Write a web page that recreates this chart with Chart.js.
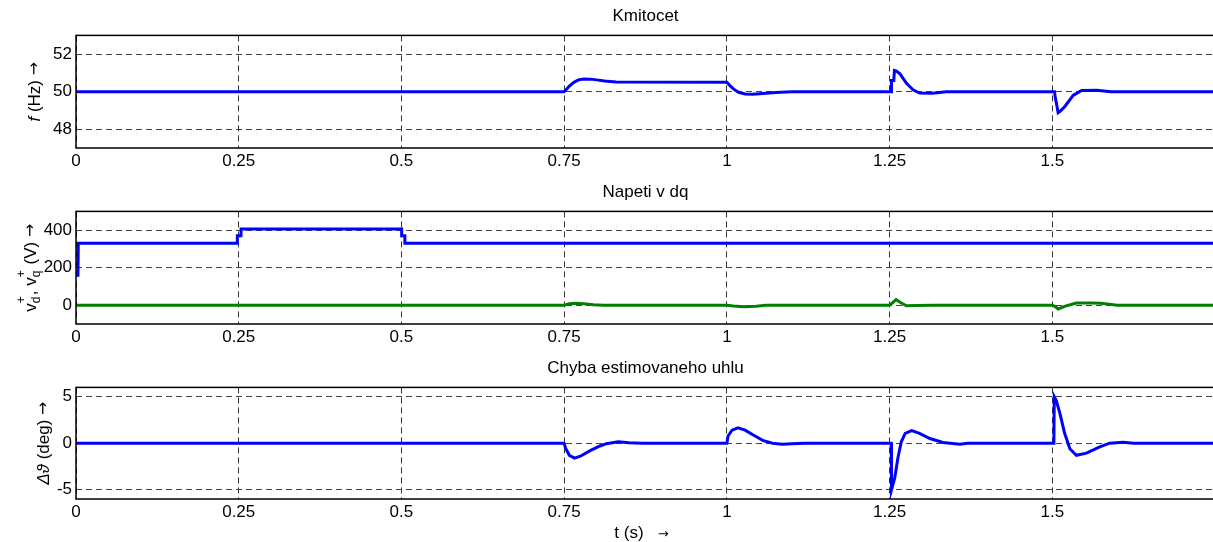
<!DOCTYPE html>
<html>
<head>
<meta charset="utf-8">
<script src="https://cdn.jsdelivr.net/npm/chart.js@4.4.0/dist/chart.umd.min.js"></script>
<style>
  html, body { margin: 0; padding: 0; background: #fff; overflow: hidden; width: 1213px; height: 542px; }
  canvas { position: absolute; left: 0; }
</style>
</head>
<body>
<canvas id="cFreq" width="1215" height="180" style="top:0px"></canvas>
<canvas id="cVolt" width="1215" height="180" style="top:176px"></canvas>
<canvas id="cErr" width="1215" height="192" style="top:352px"></canvas>
<script>
// ------- Data -------
const xTicks = [0, 0.25, 0.5, 0.75, 1, 1.25, 1.5];

const freqTicks = [48, 50, 52];
const freqT = [0, 0.75, 0.753, 0.758, 0.765, 0.772, 0.78, 0.79, 0.8, 0.812, 0.83,
  1.0, 1.004, 1.01, 1.018, 1.028, 1.04, 1.055, 1.075, 1.1,
  1.25, 1.2527, 1.2529, 1.2565, 1.2575, 1.2605, 1.266, 1.276, 1.286, 1.296, 1.316, 1.337,
  1.5, 1.5035, 1.5045, 1.506, 1.509, 1.512, 1.519, 1.532, 1.545, 1.568, 1.59, 1.75];
const freqV = [50, 50, 50.1, 50.3, 50.5, 50.63, 50.68, 50.67, 50.63, 50.57, 50.52,
  50.5, 50.35, 50.15, 49.97, 49.88, 49.86, 49.9, 49.96, 50,
  50, 50, 50.6, 50.6, 51.13, 51.1, 50.95, 50.45, 50.1, 49.93, 49.92, 50,
  50, 50, 49.7, 49.45, 48.88, 48.95, 49.2, 49.8, 50.07, 50.08, 50, 50];

const voltTicks = [0, 200, 400];
const vdT = [0, 0.003, 0.0035, 0.2478, 0.2479, 0.2535, 0.2536, 0.5003, 0.5004, 0.5052, 0.5053, 1.75];
const vdV = [160, 160, 330, 330, 370, 370, 406, 406, 370, 370, 330, 330];
const vqT = [0, 0.75, 0.758, 0.768, 0.78, 0.795, 0.81,
  1.0, 1.01, 1.025, 1.045, 1.06,
  1.25, 1.2535, 1.26, 1.268, 1.276, 1.29, 1.317,
  1.5, 1.504, 1.509, 1.52, 1.537, 1.56, 1.575, 1.6, 1.75];
const vqV = [0, 0, 8, 11, 8, 3, 0,
  0, -4, -8, -5, 0,
  0, 10, 30, 12, -3, -2, 0,
  0, -6, -20, -5, 12, 12, 10, 0, 0];

const errTicks = [-5, 0, 5];
const errT = [0, 0.75, 0.752, 0.758, 0.766, 0.775, 0.79, 0.805, 0.815, 0.833, 0.85, 0.87,
  1.0, 1.002, 1.008, 1.017, 1.028, 1.04, 1.055, 1.07, 1.085, 1.1, 1.12,
  1.25, 1.2525, 1.253, 1.258, 1.263, 1.268, 1.274, 1.284, 1.296, 1.312, 1.332, 1.358, 1.37,
  1.5, 1.5025, 1.503, 1.506, 1.5115, 1.519, 1.527, 1.537, 1.5525, 1.573, 1.588, 1.609, 1.625, 1.75];
const errV = [0, 0, -0.5, -1.3, -1.6, -1.4, -0.8, -0.3, -0.05, 0.15, 0.05, 0,
  0, 0.8, 1.4, 1.65, 1.4, 0.9, 0.3, 0, -0.1, -0.05, 0,
  0, 0, -5.0, -3.7, -1.5, 0.15, 1.06, 1.35, 1.06, 0.5, 0.07, -0.1, 0,
  0, 0, 5.0, 4.6, 3.26, 1.06, -0.6, -1.3, -1.07, -0.4, 0, 0.1, 0, 0];

// ------- Helpers -------
const FONT = '"Liberation Sans", Arial, Helvetica, sans-serif';
const ARROW_FONT = '"DejaVu Sans", sans-serif';
const BLUE = '#0000ff';
const GREEN = '#008000';

function toPoints(ts, vs) {
  return ts.map((t, i) => ({ x: t, y: vs[i] }));
}

function lineSet(ts, vs, color) {
  return {
    data: toPoints(ts, vs),
    borderColor: color,
    borderWidth: 3,
    pointRadius: 0,
    tension: 0,
    fill: false
  };
}

// frame around the axes box
const framePlugin = {
  id: 'frame',
  afterDraw(chart) {
    const a = chart.chartArea;
    const ctx = chart.ctx;
    ctx.save();
    ctx.strokeStyle = '#000';
    ctx.lineWidth = 1.5;
    ctx.strokeRect(a.left, a.top, a.right - a.left, a.bottom - a.top);
    ctx.restore();
  }
};

// text runs: italic, arrow, super/subscript
const SIZE = 17, SMALL = 12;
function fontOf(p) {
  if (p.arrow) return p.arrow + 'px ' + ARROW_FONT;
  if (p.sup !== undefined) return SMALL + 'px ' + FONT;
  return (p.it ? 'italic ' : '') + SIZE + 'px ' + FONT;
}
function measureRuns(ctx, parts) {
  let total = 0;
  parts.forEach(p => {
    ctx.font = fontOf(p);
    if (p.sup !== undefined) {
      p._w = Math.max(ctx.measureText(p.sup).width, ctx.measureText(p.sub).width) + 1;
    } else {
      p._w = ctx.measureText(p.t).width;
    }
    total += p._w;
  });
  return total;
}
function drawRuns(ctx, parts, total) {
  ctx.fillStyle = '#000';
  ctx.textBaseline = 'middle';
  ctx.textAlign = 'left';
  let x = -total / 2;
  parts.forEach(p => {
    ctx.font = fontOf(p);
    if (p.sup !== undefined) {
      ctx.fillText(p.sup, x, -9);
      ctx.fillText(p.sub, x, 6);
    } else {
      ctx.fillText(p.t, x, p.dy || 0);
    }
    x += p._w;
  });
}

const labelPlugin = {
  id: 'labels',
  afterDraw(chart, args, opts) {
    const ctx = chart.ctx;
    const a = chart.chartArea;
    if (opts.y) {
      ctx.save();
      const total = measureRuns(ctx, opts.y);
      ctx.translate(opts.yX, (a.top + a.bottom) / 2);
      ctx.rotate(-Math.PI / 2);
      drawRuns(ctx, opts.y, total);
      ctx.restore();
    }
    if (opts.x) {
      ctx.save();
      const total = measureRuns(ctx, opts.x);
      ctx.translate((a.left + a.right) / 2 - 4, opts.xY);
      drawRuns(ctx, opts.x, total);
      ctx.restore();
    }
  }
};

function makeChart(id, cfg) {
  const ctx = document.getElementById(id).getContext('2d');
  return new Chart(ctx, {
    type: 'line',
    data: { datasets: cfg.datasets },
    plugins: [framePlugin, labelPlugin],
    options: {
      responsive: false,
      animation: false,
      layout: { padding: 0 },
      plugins: {
        legend: { display: false },
        tooltip: { enabled: false },
        title: {
          display: true,
          text: cfg.title,
          fullSize: false,
          color: '#000',
          font: { family: FONT, size: 17, weight: 'normal' },
          padding: { top: 6, bottom: 9 }
        },
        labels: { y: cfg.yLabel, yX: cfg.yLabelX, x: cfg.xLabel, xY: cfg.xLabelY }
      },
      scales: {
        x: {
          type: 'linear',
          min: 0,
          max: 1.75,
          afterBuildTicks: s => { s.ticks = xTicks.map(v => ({ value: v })); },
          afterFit: s => { s.height = cfg.xHeight; },
          ticks: {
            color: '#000',
            padding: 3,
            font: { family: FONT, size: 17 },
            callback: v => String(v)
          },
          grid: { color: '#333', lineWidth: 1, drawTicks: false },
          border: { display: false, dash: [6, 4] }
        },
        y: {
          type: 'linear',
          min: cfg.yMin,
          max: cfg.yMax,
          afterBuildTicks: s => { s.ticks = cfg.yTicks.map(v => ({ value: v })); },
          afterFit: s => { s.width = 76; },
          ticks: {
            color: '#000',
            padding: 4,
            font: { family: FONT, size: 17 },
            callback: v => String(v)
          },
          grid: { color: '#444', lineWidth: 1, drawTicks: false },
          border: { display: false, dash: [6, 4] }
        }
      }
    }
  });
}

// ------- Charts -------
makeChart('cFreq', {
  title: 'Kmitocet',
  datasets: [lineSet(freqT, freqV, BLUE)],
  yMin: 47, yMax: 53, yTicks: freqTicks,
  xHeight: 32,
  yLabelX: 35,
  yLabel: [{ t: 'f', it: true }, { t: ' (Hz) ' }, { t: '\u2192', arrow: 16 }]
});

makeChart('cVolt', {
  title: 'Napeti v dq',
  datasets: [lineSet(vdT, vdV, BLUE), lineSet(vqT, vqV, GREEN)],
  yMin: -100, yMax: 500, yTicks: voltTicks,
  xHeight: 32,
  yLabelX: 31,
  yLabel: [{ t: 'v' }, { sup: '+', sub: 'd' }, { t: ', v' }, { sup: '+', sub: 'q' }, { t: ' (V) ' }, { t: '\u2192', arrow: 16 }]
});

makeChart('cErr', {
  title: 'Chyba estimovaneho uhlu',
  datasets: [lineSet(errT, errV, BLUE)],
  yMin: -6, yMax: 6, yTicks: errTicks,
  xHeight: 45,
  yLabelX: 44,
  yLabel: [{ t: '\u0394\u03d1', it: true }, { t: ' (deg) ' }, { t: '\u2192', arrow: 16 }],
  xLabelY: 181,
  xLabel: [{ t: 't (s)   ' }, { t: '\u2192', arrow: 13, dy: 2 }]
});
</script>
</body>
</html>
